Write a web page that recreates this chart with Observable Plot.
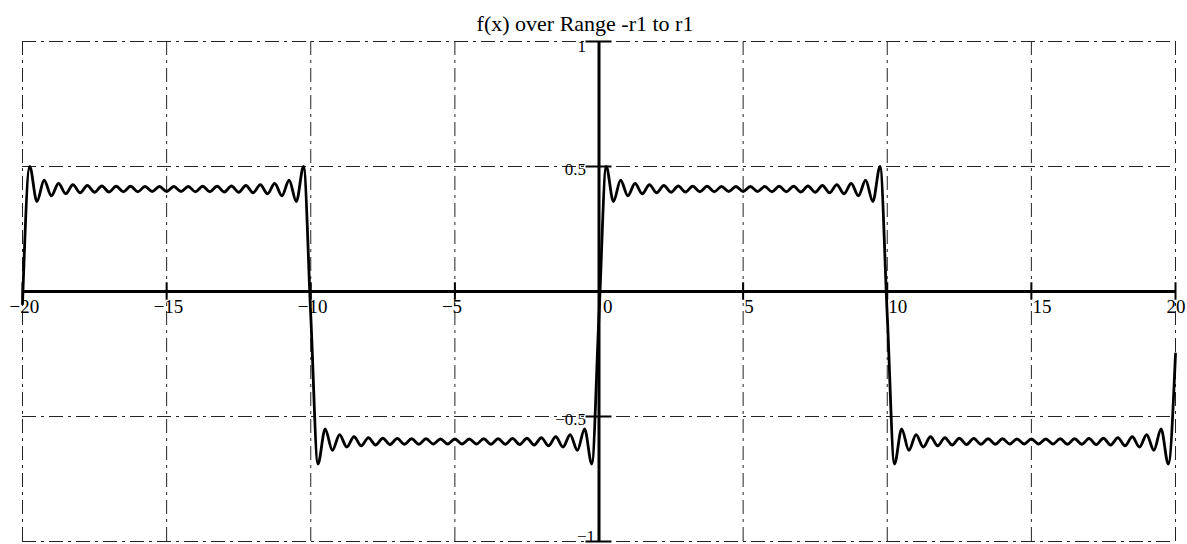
<!DOCTYPE html>
<html>
<head>
<meta charset="utf-8">
<script src="https://cdn.jsdelivr.net/npm/d3@7"></script>
<script src="https://cdn.jsdelivr.net/npm/@observablehq/plot@0.6"></script>
<style>
  html, body { margin: 0; padding: 0; background: #fff; }
  #chart svg { display: block; }
</style>
</head>
<body>
<div id="chart"></div>
<script>
const titleText = "f(x) over Range -r1 to r1";

const xTicks = [-20, -15, -10, -5, 0, 5, 10, 15, 20];
const xTickLabels = ["\u221220", "\u221215", "\u221210", "\u22125", "0", "5", "10", "15", "20"];
const yGrid = [-1, -0.5, 0.5, 1];
const yTickLabels = ["\u22121", "\u22120.5", "0.5", "1"];

// sample positions of the curve (ripple extrema)
const xs = [
  -20,-19.75,-19.5,-19.25,-19,-18.75,-18.5,-18.25,-18,-17.75,-17.5,-17.25,-17,-16.75,-16.5,-16.25,-16,-15.75,-15.5,-15.25,
  -15,-14.75,-14.5,-14.25,-14,-13.75,-13.5,-13.25,-13,-12.75,-12.5,-12.25,-12,-11.75,-11.5,-11.25,-11,-10.75,-10.5,-10.25,
  -10,-9.75,-9.5,-9.25,-9,-8.75,-8.5,-8.25,-8,-7.75,-7.5,-7.25,-7,-6.75,-6.5,-6.25,-6,-5.75,-5.5,-5.25,
  -5,-4.75,-4.5,-4.25,-4,-3.75,-3.5,-3.25,-3,-2.75,-2.5,-2.25,-2,-1.75,-1.5,-1.25,-1,-0.75,-0.5,-0.25,
  0,0.25,0.5,0.75,1,1.25,1.5,1.75,2,2.25,2.5,2.75,3,3.25,3.5,3.75,4,4.25,4.5,4.75,
  5,5.25,5.5,5.75,6,6.25,6.5,6.75,7,7.25,7.5,7.75,8,8.25,8.5,8.75,9,9.25,9.5,9.75,
  10,10.25,10.5,10.75,11,11.25,11.5,11.75,12,12.25,12.5,12.75,13,13.25,13.5,13.75,14,14.25,14.5,14.75,
  15,15.25,15.5,15.75,16,16.25,16.5,16.75,17,17.25,17.5,17.75,18,18.25,18.5,18.75,19,19.25,19.5,19.75,
  20
];

// positive half-period (between two jumps)
const posHalf = [
  0.50,0.36,0.445,0.383,0.432,0.391,0.427,0.395,0.424,0.397,
  0.422,0.398,0.421,0.399,0.421,0.399,0.420,0.400,0.420,0.400,
  0.420,0.400,0.420,0.399,0.421,0.399,0.421,0.398,0.422,0.397,
  0.424,0.395,0.427,0.391,0.432,0.383,0.445,0.36,0.50
];
// negative half-period
const negHalf = [
  -0.69,-0.55,-0.635,-0.573,-0.622,-0.581,-0.617,-0.585,-0.614,-0.587,
  -0.612,-0.588,-0.611,-0.589,-0.611,-0.589,-0.610,-0.590,-0.610,-0.590,
  -0.610,-0.590,-0.610,-0.589,-0.611,-0.589,-0.611,-0.588,-0.612,-0.587,
  -0.614,-0.585,-0.617,-0.581,-0.622,-0.573,-0.635,-0.55,-0.69
];
// values at the jumps x = -20, -10, 0, 10, 20
const jumpValues = [-0.05, -0.095, -0.095, -0.095, -0.25];

const ys = [
  jumpValues[0], ...posHalf,
  jumpValues[1], ...negHalf,
  jumpValues[2], ...posHalf,
  jumpValues[3], ...negHalf,
  jumpValues[4]
];

const curve = xs.map((x, i) => ({x, y: ys[i]}));
const xTickData = xTicks.map((v, i) => ({v, label: xTickLabels[i]}));
const yTickData = yGrid.map((v, i) => ({v, label: yTickLabels[i]}));

const font = "'Liberation Serif', 'Times New Roman', serif";
const gridDash = "14,5,3,5";
const labelSize = 19;

const chart = Plot.plot({
  width: 1187,
  height: 544,
  marginLeft: 22,
  marginRight: 12,
  marginTop: 41,
  marginBottom: 3,
  x: {domain: [-20, 20], axis: null},
  y: {domain: [-1, 1], axis: null},
  style: {fontFamily: font, background: "#fff"},
  marks: [
    // dashed grid (including frame)
    Plot.ruleX(xTicks, {x: d => d, stroke: "#222", strokeWidth: 1, strokeDasharray: gridDash}),
    Plot.ruleY(yGrid, {y: d => d, stroke: "#222", strokeWidth: 1, strokeDasharray: gridDash}),
    // axes through origin
    Plot.ruleY([0], {y: d => d, stroke: "#000", strokeWidth: 3}),
    Plot.ruleX([0], {x: d => d, stroke: "#000", strokeWidth: 3}),
    // x tick marks
    Plot.ruleX(xTicks, {x: d => d, y1: -0.035, y2: 0.035, stroke: "#000", strokeWidth: 2}),
    // y tick marks
    Plot.ruleY(yGrid, {y: d => d, x1: -0.45, x2: 0.45, stroke: "#000", strokeWidth: 2}),
    // curve
    Plot.line(curve, {x: "x", y: "y", curve: "monotone-x", stroke: "#000", strokeWidth: 2.8}),
    // x tick labels
    Plot.text(xTickData.filter(d => d.v < 0), {x: "v", y: 0, text: "label", textAnchor: "start", lineAnchor: "top", dx: -13, dy: 8, fontSize: labelSize, fill: "#000"}),
    Plot.text(xTickData.filter(d => d.v === 0), {x: "v", y: 0, text: "label", textAnchor: "start", lineAnchor: "top", dx: 4, dy: 8, fontSize: labelSize, fill: "#000"}),
    Plot.text(xTickData.filter(d => d.v > 0 && d.v < 20), {x: "v", y: 0, text: "label", textAnchor: "start", lineAnchor: "top", dx: 1, dy: 8, fontSize: labelSize, fill: "#000"}),
    Plot.text(xTickData.filter(d => d.v === 20), {x: "v", y: 0, text: "label", textAnchor: "start", lineAnchor: "top", dx: -9, dy: 8, fontSize: labelSize, fill: "#000"}),
    // y tick labels
    Plot.text(yTickData.filter(d => d.v > -1 && d.v < 1), {x: 0, y: "v", text: "label", textAnchor: "end", lineAnchor: "middle", dx: -13, dy: 3, fontSize: 17, fill: "#000"}),
    Plot.text(yTickData.filter(d => d.v === 1), {x: 0, y: "v", text: "label", textAnchor: "end", lineAnchor: "top", dx: -13, dy: -2, fontSize: 17, fill: "#000"}),
    Plot.text(yTickData.filter(d => d.v === -1), {x: 0, y: "v", text: "label", textAnchor: "end", lineAnchor: "bottom", dx: -4, dy: 0, fontSize: 17, fill: "#000"}),
    // title
    Plot.text([titleText], {frameAnchor: "top", text: d => d, lineAnchor: "bottom", dx: -14, dy: -11, fontSize: 22, fill: "#000"})
  ]
});

document.getElementById("chart").appendChild(chart);
</script>
</body>
</html>
